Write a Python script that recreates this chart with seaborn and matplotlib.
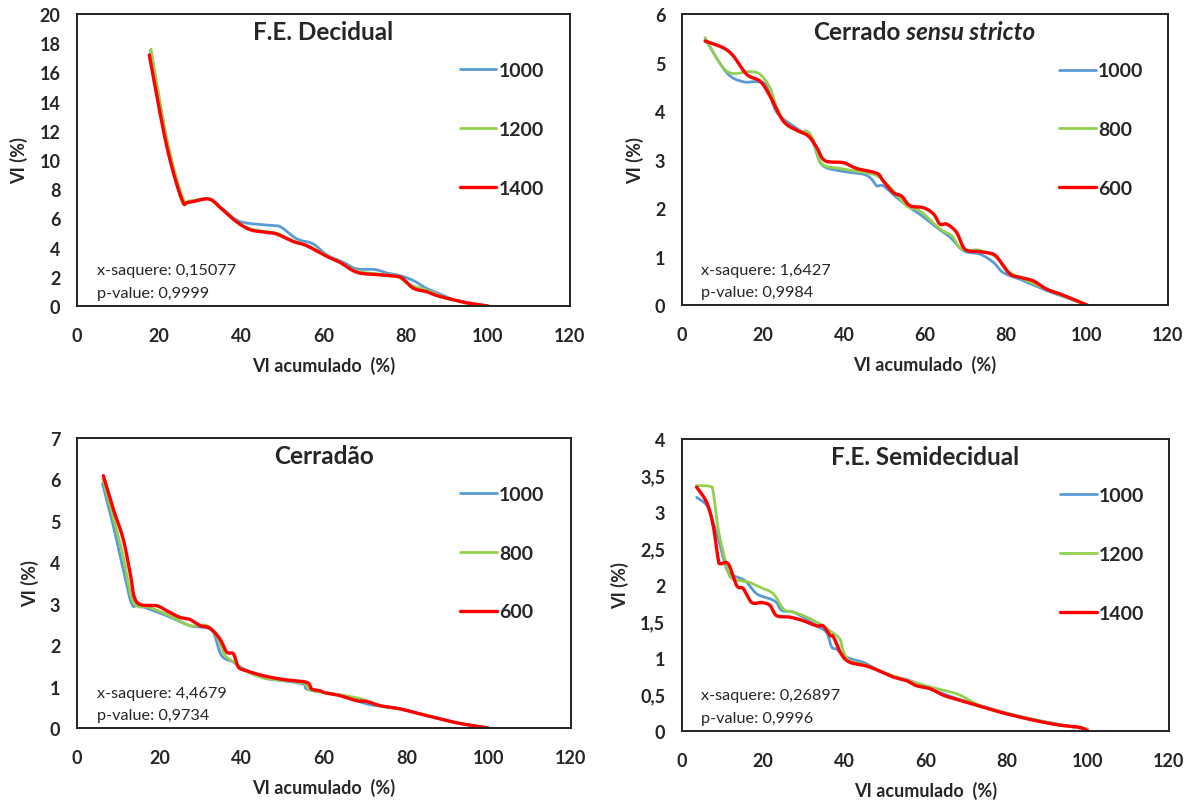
import numpy as np
import pandas as pd
import matplotlib
matplotlib.use("Agg")
import matplotlib.pyplot as plt
import seaborn as sns
from matplotlib.ticker import FuncFormatter, MultipleLocator

# ---------------- data: cumulative VI (%) vs VI (%) ----------------
# F.E. Decidual
dec_labels = ["1000", "1200", "1400"]
dec_x_1000 = [17.9, 21.8, 25.5, 27.5, 32.0, 34.8, 38.5, 41.3, 47.8, 49.7, 53.5, 57.5, 60.8, 64.8, 68.0, 72.5, 75.4, 78.6, 81.9, 85.1, 88.4, 91.6, 94.9, 100.0]
dec_y_1000 = [17.5, 11.2, 7.4, 7.15, 7.35, 6.8, 5.95, 5.68, 5.5, 5.4, 4.6, 4.25, 3.5, 3.0, 2.55, 2.5, 2.26, 2.08, 1.74, 1.2, 0.82, 0.43, 0.25, 0.0]
dec_x_1200 = [18.0, 22.0, 25.7, 27.5, 32.0, 35.0, 38.5, 42.0, 46.0, 49.0, 52.7, 56.0, 60.8, 64.0, 68.0, 73.0, 77.8, 80.0, 82.0, 85.0, 88.0, 91.0, 95.0, 100.0]
dec_y_1200 = [17.6, 11.3, 7.45, 7.2, 7.35, 6.75, 5.85, 5.3, 5.1, 4.95, 4.45, 4.15, 3.45, 3.0, 2.4, 2.2, 2.05, 1.6, 1.35, 1.1, 0.75, 0.45, 0.22, 0.0]
dec_x_1400 = [17.6, 21.8, 25.5, 27.1, 32.0, 34.8, 38.5, 42.1, 46.2, 48.6, 52.7, 55.9, 60.8, 64.0, 68.1, 73.0, 77.8, 79.4, 81.9, 85.1, 87.6, 90.8, 94.9, 100.0]
dec_y_1400 = [17.2, 11.0, 7.3, 7.1, 7.33, 6.76, 5.84, 5.23, 5.05, 4.93, 4.41, 4.13, 3.4, 2.99, 2.31, 2.15, 2.03, 1.85, 1.21, 0.98, 0.71, 0.48, 0.21, 0.0]

# Cerrado sensu stricto
css_labels = ["1000", "800", "600"]
css_x_1000 = [5.7, 11.0, 15.1, 18.4, 20.9, 23.4, 28.1, 30.4, 32.4, 34.5, 39.0, 44.8, 46.8, 48.1, 49.7, 53.0, 56.3, 58.8, 62.9, 66.2, 69.5, 73.6, 76.9, 79.3, 83.5, 90.0, 95.0, 100.0]
css_y_1000 = [5.5, 4.8, 4.61, 4.61, 4.52, 3.98, 3.66, 3.54, 3.35, 2.9, 2.77, 2.7, 2.6, 2.46, 2.46, 2.22, 2.01, 1.87, 1.6, 1.4, 1.12, 1.05, 0.88, 0.67, 0.53, 0.3, 0.15, 0.0]
css_x_800 = [5.7, 11.0, 16.8, 19.3, 21.7, 23.4, 25.8, 29.1, 30.8, 32.4, 34.5, 39.0, 44.8, 48.1, 51.4, 55.5, 58.8, 63.7, 66.6, 69.1, 73.6, 77.7, 80.2, 84.3, 90.0, 95.0, 100.0]
css_y_800 = [5.52, 4.83, 4.82, 4.76, 4.49, 4.08, 3.73, 3.58, 3.59, 3.42, 2.92, 2.82, 2.74, 2.67, 2.43, 2.05, 1.94, 1.57, 1.43, 1.15, 1.13, 0.98, 0.71, 0.54, 0.33, 0.16, 0.0]
css_x_600 = [5.7, 10.2, 12.7, 16.0, 19.3, 21.7, 25.0, 28.3, 31.2, 33.3, 35.3, 39.8, 43.1, 48.1, 49.7, 52.2, 54.2, 56.3, 59.6, 62.1, 63.7, 65.4, 67.8, 69.9, 73.6, 76.9, 78.5, 81.0, 83.5, 86.7, 90.0, 93.3, 96.6, 100.0]
css_y_600 = [5.45, 5.31, 5.14, 4.76, 4.62, 4.32, 3.8, 3.61, 3.49, 3.25, 2.98, 2.94, 2.82, 2.72, 2.56, 2.32, 2.25, 2.05, 2.01, 1.88, 1.67, 1.67, 1.5, 1.15, 1.1, 1.05, 0.91, 0.64, 0.57, 0.5, 0.33, 0.23, 0.12, 0.0]

# Cerradão
cdo_labels = ["1000", "800", "600"]
cdo_x_1000 = [6.2, 8.8, 11.2, 13.3, 15.3, 21.8, 27.4, 30.7, 33.1, 35.1, 38.0, 40.4, 45.3, 50.1, 55.0, 55.8, 59.8, 64.0, 70.4, 73.6, 78.5, 83.3, 88.2, 93.0, 100.0]
cdo_y_1000 = [5.9, 4.89, 3.84, 3.0, 2.95, 2.71, 2.47, 2.43, 2.31, 1.75, 1.59, 1.43, 1.21, 1.14, 1.06, 0.94, 0.86, 0.78, 0.58, 0.53, 0.46, 0.34, 0.22, 0.11, 0.0]
cdo_x_800 = [6.3, 8.8, 11.2, 13.7, 17.7, 22.6, 27.4, 31.5, 34.3, 36.0, 38.8, 40.4, 45.3, 50.1, 55.0, 56.6, 59.8, 64.0, 69.1, 73.6, 78.5, 83.3, 88.2, 93.0, 100.0]
cdo_y_800 = [6.01, 5.09, 4.16, 3.04, 2.91, 2.71, 2.47, 2.47, 2.15, 1.75, 1.55, 1.4, 1.21, 1.15, 1.08, 0.92, 0.86, 0.8, 0.7, 0.53, 0.46, 0.34, 0.22, 0.11, 0.0]
cdo_x_600 = [6.4, 8.8, 11.2, 12.9, 14.5, 19.4, 21.8, 25.0, 27.4, 29.9, 32.3, 34.7, 36.4, 38.0, 39.2, 41.2, 45.3, 50.1, 55.8, 57.0, 59.0, 60.2, 63.9, 67.9, 70.4, 73.6, 78.5, 83.3, 88.2, 93.0, 99.8]
cdo_y_600 = [6.09, 5.29, 4.57, 3.76, 3.04, 2.95, 2.83, 2.67, 2.62, 2.47, 2.41, 2.15, 1.83, 1.79, 1.47, 1.38, 1.26, 1.17, 1.1, 0.94, 0.9, 0.85, 0.78, 0.66, 0.64, 0.54, 0.46, 0.34, 0.22, 0.11, 0.0]

# F.E. Semidecidual
sem_labels = ["1000", "1200", "1400"]
sem_x_1000 = [3.6, 6.1, 7.7, 9.4, 11.0, 12.6, 15.5, 18.4, 21.7, 23.3, 24.6, 27.4, 30.7, 33.2, 35.6, 36.9, 38.1, 40.6, 44.7, 47.1, 51.2, 56.2, 60.0, 64.4, 68.5, 73.4, 78.3, 83.3, 88.2, 93.1, 100.0]
sem_y_1000 = [3.2, 3.09, 2.86, 2.54, 2.22, 2.13, 2.06, 1.88, 1.81, 1.76, 1.65, 1.63, 1.53, 1.44, 1.35, 1.15, 1.12, 1.01, 0.94, 0.87, 0.76, 0.69, 0.6, 0.51, 0.43, 0.35, 0.27, 0.2, 0.14, 0.09, 0.02]
sem_x_1200 = [3.6, 6.9, 7.7, 8.9, 10.2, 11.4, 12.6, 16.3, 19.2, 22.5, 25.0, 27.4, 29.9, 33.2, 36.5, 38.9, 39.7, 41.4, 45.5, 49.6, 55.3, 60.0, 62.8, 67.7, 70.9, 73.4, 78.3, 83.3, 88.2, 93.1, 100.0]
sem_y_1200 = [3.36, 3.35, 3.27, 2.77, 2.45, 2.17, 2.08, 2.04, 1.97, 1.88, 1.67, 1.63, 1.58, 1.49, 1.37, 1.26, 1.1, 0.96, 0.9, 0.8, 0.7, 0.62, 0.58, 0.51, 0.42, 0.35, 0.27, 0.2, 0.14, 0.08, 0.03]
sem_x_1400 = [3.6, 6.1, 7.7, 8.9, 9.4, 11.4, 13.5, 15.1, 17.2, 19.6, 21.7, 23.3, 26.6, 29.9, 33.2, 34.8, 36.5, 37.3, 39.3, 41.4, 45.5, 49.6, 52.0, 55.3, 57.8, 61.1, 64.4, 68.5, 73.4, 78.3, 83.3, 88.2, 93.1, 98.0, 100.0]
sem_y_1400 = [3.34, 3.13, 2.81, 2.36, 2.29, 2.29, 1.99, 1.95, 1.76, 1.76, 1.72, 1.58, 1.56, 1.51, 1.44, 1.44, 1.31, 1.29, 1.05, 0.94, 0.89, 0.8, 0.74, 0.69, 0.62, 0.58, 0.49, 0.42, 0.34, 0.26, 0.19, 0.13, 0.08, 0.05, 0.0]

stats_text = {
    "dec": ("x-saquere: 0,15077", "p-value: 0,9999"),
    "css": ("x-saquere: 1,6427", "p-value: 0,9984"),
    "cdo": ("x-saquere: 4,4679", "p-value: 0,9734"),
    "sem": ("x-saquere: 0,26897", "p-value: 0,9996"),
}

x_ticks = [0, 20, 40, 60, 80, 100, 120]
colors = ["#5B9BD5", "#92D050", "#FF0000"]

# ---------------- helpers ----------------
def smoothed(xs, ys, steps=14):
    """Catmull-Rom path through the points (smoothed-line style)."""
    pts = np.column_stack([xs, ys]).astype(float)
    pts = np.vstack([pts[0], pts, pts[-1]])
    out = []
    t = np.linspace(0, 1, steps, endpoint=False)[:, None]
    for i in range(1, len(pts) - 2):
        p0, p1, p2, p3 = pts[i - 1], pts[i], pts[i + 1], pts[i + 2]
        seg = 0.5 * (2 * p1 + (-p0 + p2) * t + (2 * p0 - 5 * p1 + 4 * p2 - p3) * t ** 2
                     + (-p0 + 3 * p1 - 3 * p2 + p3) * t ** 3)
        out.append(seg)
    out.append(pts[-2][None, :])
    out = np.vstack(out)
    return out[:, 0], out[:, 1]


def comma_fmt(v, _pos):
    return f"{v:g}".replace(".", ",")


sns.set_style("white")
plt.rcParams["font.family"] = ["Lato", "DejaVu Sans"]

fig = plt.figure(figsize=(12.03, 8.03), dpi=100)

panels = [
    dict(key="dec", rect=[0.0640, 0.6177, 0.4098, 0.3636], title="F.E. Decidual",
         labels=dec_labels,
         series=[(dec_x_1000, dec_y_1000), (dec_x_1200, dec_y_1200), (dec_x_1400, dec_y_1400)],
         ymax=20, ystep=2),
    dict(key="css", rect=[0.5669, 0.6189, 0.4040, 0.3619], title=None,
         labels=css_labels,
         series=[(css_x_1000, css_y_1000), (css_x_800, css_y_800), (css_x_600, css_y_600)],
         ymax=6, ystep=1),
    dict(key="cdo", rect=[0.0640, 0.0922, 0.4106, 0.3611], title="Cerradão",
         labels=cdo_labels,
         series=[(cdo_x_1000, cdo_y_1000), (cdo_x_800, cdo_y_800), (cdo_x_600, cdo_y_600)],
         ymax=7, ystep=1),
    dict(key="sem", rect=[0.5669, 0.0884, 0.4048, 0.3637], title="F.E. Semidecidual",
         labels=sem_labels,
         series=[(sem_x_1000, sem_y_1000), (sem_x_1200, sem_y_1200), (sem_x_1400, sem_y_1400)],
         ymax=4, ystep=0.5),
]

for p in panels:
    ax = fig.add_axes(p["rect"])
    frames = []
    for lab, (xs, ys) in zip(p["labels"], p["series"]):
        sx, sy = smoothed(xs, ys)
        frames.append(pd.DataFrame({"x": sx, "y": sy, "serie": lab}))
    df = pd.concat(frames, ignore_index=True)
    sns.lineplot(data=df, x="x", y="y", hue="serie", hue_order=p["labels"],
                 palette=dict(zip(p["labels"], colors)), sort=False, estimator=None,
                 linewidth=2.0, ax=ax)
    for ln, lw in zip(ax.lines[:3], [2.0, 2.0, 2.4]):
        ln.set_linewidth(lw)

    ax.set_xlim(0, 120)
    ax.set_ylim(0, p["ymax"])
    ax.set_xticks(x_ticks)
    ax.yaxis.set_major_locator(MultipleLocator(p["ystep"]))
    if p["key"] == "sem":
        ax.yaxis.set_major_formatter(FuncFormatter(comma_fmt))
    ax.tick_params(axis="both", length=0, labelsize=13)
    ax.tick_params(axis="x", pad=15)
    ax.tick_params(axis="y", pad=12)
    for lbl in ax.get_xticklabels() + ax.get_yticklabels():
        lbl.set_fontweight("bold")
    ax.set_xlabel("VI acumulado  (%)", fontsize=13, fontweight="bold", labelpad=9)
    ax.set_ylabel("VI (%)", fontsize=13, fontweight="bold", labelpad=8)
    for sp in ax.spines.values():
        sp.set_visible(True)
        sp.set_color("#222222")
        sp.set_linewidth(1.4)
    ax.grid(False)

    # title inside the plot area
    if p["title"] is not None:
        ax.text(0.5, 0.94, p["title"], transform=ax.transAxes, ha="center", va="center",
                fontsize=17.5, fontweight="bold")
    else:
        t1 = ax.text(0.27, 0.94, "Cerrado", transform=ax.transAxes, ha="left", va="center",
                     fontsize=17.5, fontweight="bold")
        ax.annotate(" sensu stricto", xy=(1, 0), xycoords=t1, ha="left", va="bottom",
                    fontsize=17.5, fontweight="bold", style="italic")

    # statistics
    s1, s2 = stats_text[p["key"]]
    ax.text(0.04, 0.122, s1, transform=ax.transAxes, ha="left", va="center", fontsize=11.7)
    ax.text(0.04, 0.046, s2, transform=ax.transAxes, ha="left", va="center", fontsize=11.7)

    handles = ax.lines[:3]
    ax.legend(handles, p["labels"], loc="upper left", bbox_to_anchor=(0.776, 0.835),
              frameon=False, borderpad=0, borderaxespad=0, handlelength=1.9,
              handletextpad=0.1, labelspacing=2.15, prop=dict(size=14, weight="bold"))

fig.savefig("out.png", dpi=100, facecolor="white")
